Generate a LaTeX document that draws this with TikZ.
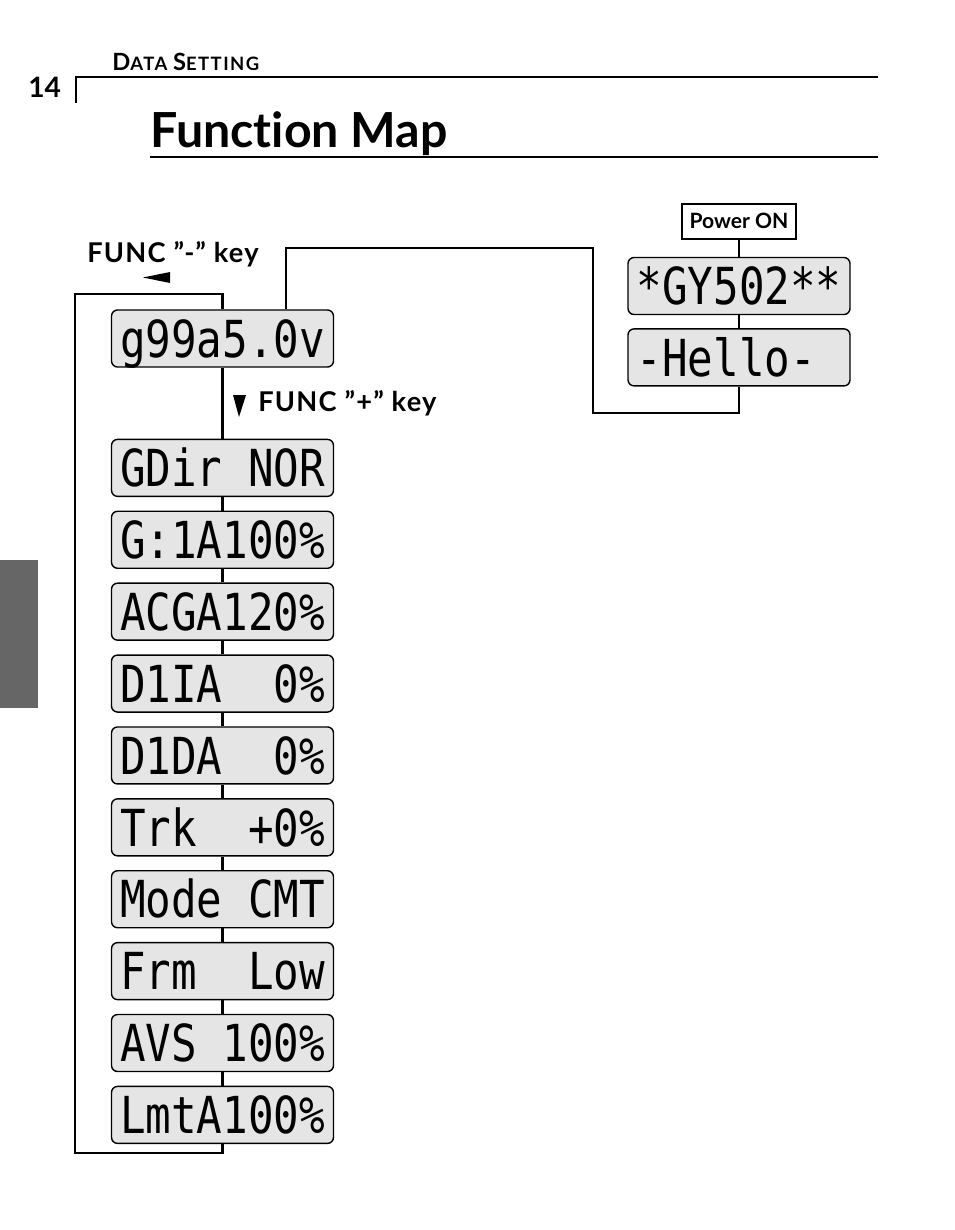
\documentclass[tikz,border=0pt]{standalone}
\usepackage{fontspec}
\setmainfont{Lato}[Ligatures=NoCommon]
\newfontfamily\lcdfont{DejaVu Sans Mono}
\usepackage{graphicx}
\usetikzlibrary{positioning}

\definecolor{lcdgray}{RGB}{229,229,229}
\definecolor{tabgray}{RGB}{102,102,102}
\newcommand{\lcd}[1]{\scalebox{1}[1.2]{#1}}
\newcommand{\fakesc}[2]{{\fontsize{13.5pt}{13.5pt}\selectfont #1}{\fontsize{10.5pt}{10.5pt}\selectfont #2}}

\begin{document}
\begin{tikzpicture}[
  x=0.02cm, y=-0.02cm,
  lcd/.style={rectangle, draw, rounded corners=0.12cm, line width=0.8pt,
              fill=lcdgray, minimum width=4.44cm, minimum height=1.14cm,
              inner sep=0pt, text height=0.75cm, text depth=0pt,
              font=\lcdfont\fontsize{24.2pt}{26pt}\selectfont},
  keybox/.style={rectangle, draw, line width=1.1pt, fill=white,
                 minimum width=2.28cm, minimum height=0.7cm, inner sep=0pt,
                 font=\bfseries\fontsize{12pt}{13pt}\selectfont},
  keylabel/.style={anchor=base west, inner sep=0pt,
                   font=\bfseries\fontsize{15.5pt}{16pt}\selectfont\addfontfeatures{LetterSpace=4.5}},
  link/.style={line width=1.5pt},
]
  \useasboundingbox (0,0) rectangle (954,1230);

  % -- Page header --
  \node[anchor=base west, inner sep=0pt,
        font=\bfseries\addfontfeatures{LetterSpace=8}] (section) at (112,71)
    {\fakesc{D}{ATA} \fakesc{S}{ETTING}};
  \node[anchor=base west, inner sep=0pt, font=\bfseries\fontsize{16pt}{16pt}\selectfont]
    (pagenum) at (28,97) {14};
  \draw[line width=0.8pt] (76,103) |- (878,77);
  \node[anchor=base west, inner sep=0pt, font=\bfseries\fontsize{27.5pt}{30pt}\selectfont]
    (title) at (150,147) {Function Map};
  \draw[line width=1.5pt] (150,157) -- (878,157);
  \fill[tabgray] (0,560) rectangle (38,708);

  % -- Main display column --
  \node[lcd] (volt) at (222.5,338.5) {\lcd{g99a5.0v}};
  \node[lcd, below=1.42cm of volt] (gdir) {\lcd{GDir~NOR}};
  \node[lcd, below=0.27cm of gdir] (gain) {\lcd{G:1A100\%}};
  \node[lcd, below=0.27cm of gain] (acga) {\lcd{ACGA120\%}};
  \node[lcd, below=0.27cm of acga] (dia) {\lcd{D1IA~~0\%}};
  \node[lcd, below=0.27cm of dia] (dda) {\lcd{D1DA~~0\%}};
  \node[lcd, below=0.27cm of dda] (trk) {\lcd{Trk~~+0\%}};
  \node[lcd, below=0.27cm of trk] (mode) {\lcd{Mode~CMT}};
  \node[lcd, below=0.27cm of mode] (frm) {\lcd{Frm~~Low}};
  \node[lcd, below=0.27cm of frm] (avs) {\lcd{AVS~100\%}};
  \node[lcd, below=0.27cm of avs] (lmta) {\lcd{LmtA100\%}};

  % -- Start-up column --
  \node[lcd] (model) at (739,286) {\lcd{*GY502**}};
  \node[keybox, above=0.34cm of model] (power) {Power ON};
  \node[lcd, below=0.26cm of model] (hello) {\lcd{-Hello-\phantom{-}}};

  % Key labels
  \node[keylabel] (minuskey) at (87,262) {FUNC ”-” key};
  \node[keylabel] (pluskey) at (258,411) {FUNC ”+” key};
  \fill (143,277.5) -- (170,272) -- (170,283) -- cycle;
  \fill (239,417) -- (233,395) -- (246,395) -- cycle;

  % Corners of the loops
  \coordinate (minusTop) at (75,294);
  \coordinate (minusBot) at (75,1153);
  \coordinate (jumpTop) at (593,248);
  \coordinate (jumpBot) at (593,413);

  % Connections
  \draw[link] (power) -- (model);
  \draw[link] (model) -- (hello);
  \draw[link] ([xshift=1.27cm]volt.north) |- (jumpTop) -- (jumpBot) -| (hello.south);
  \draw[link] (volt) -- (gdir);
  \draw[link] (gdir) -- (gain);
  \draw[link] (gain) -- (acga);
  \draw[link] (acga) -- (dia);
  \draw[link] (dia) -- (dda);
  \draw[link] (dda) -- (trk);
  \draw[link] (trk) -- (mode);
  \draw[link] (mode) -- (frm);
  \draw[link] (frm) -- (avs);
  \draw[link] (avs) -- (lmta);
  \draw[link] (volt.north) |- (minusTop) -- (minusBot) -| (lmta.south);

\end{tikzpicture}
\end{document}
